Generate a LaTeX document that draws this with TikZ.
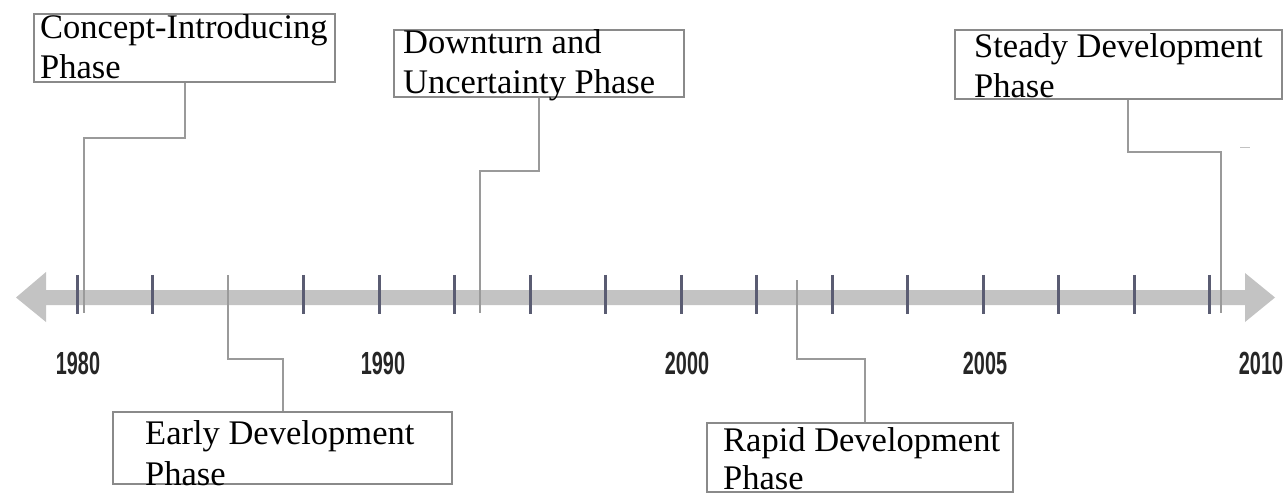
\documentclass[tikz,border=0pt]{standalone}
\usepackage{fontspec}
\setmainfont{Liberation Serif}
\newfontfamily\boxfont{Liberation Serif}
\newfontfamily\yearfont[FakeStretch=0.62]{Liberation Sans}
\definecolor{boxgray}{HTML}{8A8A8A}
\definecolor{conngray}{HTML}{9A9A9A}
\definecolor{tickcol}{HTML}{5A5C72}
\definecolor{bargray}{HTML}{C3C3C3}
\begin{document}
\begin{tikzpicture}[x=1pt,y=-1pt,
  phasebox/.style={draw=boxgray, line width=2.4pt, fill=white, inner sep=0pt, rectangle},
  phasetext/.style={anchor=base west, inner sep=0pt, font=\boxfont\fontsize{34.5}{40}\selectfont},
  year/.style={inner sep=0pt, font=\yearfont\bfseries\fontsize{32}{34}\selectfont, text=black!85},
  conn/.style={draw=conngray, line width=2pt},
  tickmark/.style={draw=tickcol, line width=3pt}]
\useasboundingbox (0,0) rectangle (1287,494);
\clip (0,0) rectangle (1287,494);
% axis bar with arrowheads
\fill[bargray] (16,297.5) -- (46,272) -- (46,290) -- (1245,290) -- (1245,273)
  -- (1275,297.5) -- (1245,322) -- (1245,305) -- (46,305) -- (46,322) -- cycle;
% ticks
\foreach \i in {0,1,3,4,5,6,7,8,9,10,11,12,13,14,15}
  \draw[tickmark] ({77+75.5*\i},275) -- ({77+75.5*\i},314);
% year labels
\node[year] (y1980) at (78,363) {1980};
\node[year] (y1990) at (383,363) {1990};
\node[year] (y2000) at (687,363) {2000};
\node[year] (y2005) at (985,363) {2005};
\node[year] (y2010) at (1261,363) {2010};
% connector ends on the axis
\coordinate (a1) at (84,313);
\coordinate (a2) at (480,313);
\coordinate (a3) at (1221,313);
\coordinate (a4) at (228,275);
\coordinate (a5) at (797,280);
% boxes
\node[phasebox, minimum width=301pt, minimum height=68pt] (b1) at (184.5,48) {};
\node[phasebox, minimum width=290pt, minimum height=67pt] (b2) at (539,63.5) {};
\node[phasebox, minimum width=327pt, minimum height=69pt] (b3) at (1118.5,64.5) {};
\node[phasebox, minimum width=339pt, minimum height=72pt] (b4) at (282.5,448) {};
\node[phasebox, minimum width=306pt, minimum height=69pt] (b5) at (860,457.5) {};
% connectors
\draw[conn] (b1.south) -- ++(0,55) -| (a1);
\draw[conn] (b2.south) -- ++(0,73) -| (a2);
\draw[conn] ([xshift=9pt]b3.south) -- ++(0,52) -| (a3);
\draw[conn] (b4.north) -- ++(0,-52) -| (a4);
\draw[conn] ([xshift=5pt]b5.north) -- ++(0,-63) -| (a5);
\draw[conngray!60, line width=1pt] (1240,148) -- (1250,148);
% texts
\node[phasetext] (t1a) at (40,39) {Concept-Introducing};
\node[phasetext] (t1b) at (40,79) {Phase};
\node[phasetext] (t2a) at (403,54) {Downturn and};
\node[phasetext] (t2b) at (403,94) {Uncertainty Phase};
\node[phasetext] (t3a) at (974,58) {Steady Development};
\node[phasetext] (t3b) at (974,98) {Phase};
\node[phasetext] (t4a) at (145,444) {Early Development};
\node[phasetext] (t4b) at (145,485) {Phase};
\node[phasetext] (t5a) at (723,451) {Rapid Development};
\node[phasetext] (t5b) at (723,489) {Phase};
\end{tikzpicture}
\end{document}
